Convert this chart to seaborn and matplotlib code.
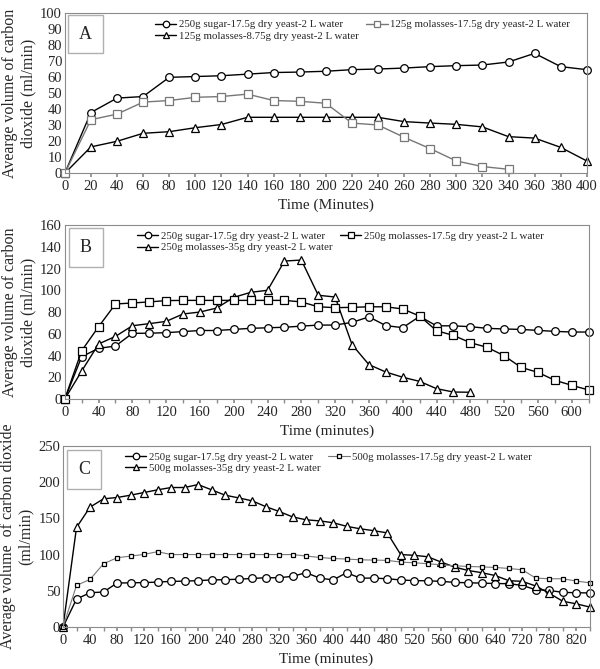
import numpy as np
import pandas as pd
import matplotlib
matplotlib.use("Agg")
import matplotlib.pyplot as plt
import seaborn as sns

sns.set_theme(style="white")
plt.rcParams['font.family'] = ['Liberation Serif', 'DejaVu Serif']

# Panel A
a_time = list(range(0, 401, 20))
a_sugar = [0, 38, 47, 48, 60, 60.5, 61, 62, 63, 63.3, 63.8, 64.8, 65.2, 65.8, 66.7, 67.3, 67.7, 69.6, 75, 66.7, 64.8]
a_mol175_time = list(range(0, 341, 20))
a_mol175 = [0, 33.5, 37, 44.5, 45.5, 47.5, 48, 49.5, 45.5, 45, 43.8, 31.4, 30.2, 22.5, 15.4, 7.7, 4.2, 2.5]
a_mol875 = [0, 16.5, 20, 25, 26, 28.5, 30.5, 35, 35, 35, 35, 35, 35, 32.3, 31.4, 30.6, 29, 22.9, 22, 16.2, 7.7]

# Panel B
b_time = list(range(0, 621, 20))
b_sugar = [0, 38.9, 46.6, 48.7, 60.4, 60.5, 61, 62, 63, 63, 64, 65, 65.5, 66, 67, 68, 68, 70.5, 75.5, 67.5,
           65.6, 76, 67.3, 67.3, 66.5, 65, 64.4, 64, 63.1, 62.2, 61.6, 61.6]
b_mol175 = [0, 44.4, 66.5, 87.4, 88.3, 89.3, 90.5, 90.7, 90.7, 90.7, 90.7, 90.7, 90.7, 90.7, 89.3, 84.8,
            84, 84.3, 84.8, 84.8, 82.8, 76.3, 62.8, 58.5, 51.8, 47.5, 39.8, 29.1, 24.5, 17.2, 12.6, 8.3]
b_mol35_time = list(range(0, 481, 20))
b_mol35 = [0, 25.7, 50.6, 57.6, 67.4, 69.3, 71.4, 78.2, 80, 83.7, 93.5, 98.1, 100, 126.9, 127.8, 95.4,
           93.8, 50, 31.6, 24.8, 20, 16.2, 9.5, 6.4, 6.2]

# Panel C (categorical time axis)
c_time = list(range(0, 641, 20)) + [680, 720, 750, 780, 800, 820, 840]
c_sugar = [0, 38.6, 47.3, 48.3, 60.7, 61, 61.3, 62, 63, 63.3, 64, 65, 65.3, 66, 67, 68, 68, 70, 75, 67.5,
           65, 75, 67.5, 67.5, 66.6, 65, 64, 63.8, 63, 61.6, 61, 60.6, 60, 59.8, 57.4, 51.5, 50.5, 47.8, 47.3, 47]
c_mol175 = [0, 57.4, 65.7, 87.3, 95.6, 97.9, 100.2, 104, 100, 100, 100, 100, 100, 100, 100, 100, 100, 100,
            98, 96, 94.6, 93.8, 92.8, 92.4, 92, 89.6, 88.7, 87.3, 85.9, 84.5, 83.6, 83, 82.2, 80.8, 79,
            67.5, 66.6, 66.6, 63.4, 61]
c_mol35 = [0, 137.4, 165.5, 177, 178.8, 182, 185.7, 189.4, 192.6, 192.6, 196.7, 189.4, 182, 178.3, 174.2,
           166.3, 159.5, 152, 148, 146.5, 144, 139, 135.6, 133, 130, 100, 99, 97, 89.6, 82.7, 78, 75, 71,
           64, 63, 56.6, 46.5, 35.5, 32, 27.5]

fig = plt.figure(figsize=(6, 6.69), dpi=100)
axA = fig.add_axes([0.108, 0.741, 0.870, 0.239])
axB = fig.add_axes([0.108, 0.4036, 0.873, 0.260])
axC = fig.add_axes([0.105, 0.0628, 0.878, 0.2706])

circ = dict(marker='o', markersize=5.5, markerfacecolor='white', markeredgecolor='black',
            markeredgewidth=0.9, color='black', linewidth=1.0)
tri = dict(marker='^', markersize=5.2, markerfacecolor='white', markeredgecolor='black',
           markeredgewidth=0.9, color='black', linewidth=1.0)

# ---- A
sns.lineplot(x=a_time, y=a_sugar, ax=axA, label='250g sugar-17.5g dry yeast-2 L water', **circ)
sns.lineplot(x=a_time, y=a_mol875, ax=axA, label='125g molasses-8.75g dry yeast-2 L water', **tri)
sns.lineplot(x=a_mol175_time, y=a_mol175, ax=axA, label='125g molasses-17.5g dry yeast-2 L water',
             marker='s', markersize=5.5, markerfacecolor='white', markeredgecolor='#777777',
             markeredgewidth=0.9, color='#777777', linewidth=1.0)
axA.set_xlim(0, 400)
axA.set_ylim(0, 100)
axA.set_xticks(a_time)
axA.set_yticks(range(0, 101, 10))
axA.set_xlabel('Time (Minutes)', fontsize=11, labelpad=4)
axA.set_ylabel('Avearge volume of carbon\ndioxide (ml/min)', fontsize=11.5, labelpad=3)

# ---- B
sns.lineplot(x=b_time, y=b_sugar, ax=axB, label='250g sugar-17.5g dry yeast-2 L water', **circ)
sns.lineplot(x=b_mol35_time, y=b_mol35, ax=axB, label='250g molasses-35g dry yeast-2 L water', **tri)
sns.lineplot(x=b_time, y=b_mol175, ax=axB, label='250g molasses-17.5g dry yeast-2 L water',
             marker='s', markersize=5.5, markerfacecolor='white', markeredgecolor='black',
             markeredgewidth=0.9, color='black', linewidth=1.0)
axB.set_xlim(0, 620)
axB.set_ylim(0, 160)
axB.set_xticks(range(0, 601, 40))
axB.set_xticks(b_time, minor=True)
axB.set_yticks(range(0, 161, 20))
axB.set_xlabel('Time (minutes)', fontsize=11, labelpad=4)
axB.set_ylabel('Average volume of carbon\ndioxide (ml/min)', fontsize=11.5, labelpad=3)

# ---- C
c_pos = np.arange(len(c_time))
sns.lineplot(x=c_pos, y=c_sugar, ax=axC, label='250g sugar-17.5g dry yeast-2 L water', **circ)
sns.lineplot(x=c_pos, y=c_mol35, ax=axC, label='500g molasses-35g dry yeast-2 L water', **tri)
sns.lineplot(x=c_pos, y=c_mol175, ax=axC, label='500g molasses-17.5g dry yeast-2 L water',
             marker='s', markersize=3.2, markerfacecolor='white', markeredgecolor='black',
             markeredgewidth=0.9, color='#777777', linewidth=0.8)
axC.set_xlim(0, len(c_time) - 1)
axC.set_ylim(0, 250)
axC.set_xticks(c_pos[::2])
axC.set_xticklabels([str(t) for t in c_time[::2]])
axC.set_xticks(c_pos, minor=True)
axC.set_yticks(range(0, 251, 50))
axC.set_xlabel('Time (minutes)', fontsize=11, labelpad=4)
axC.set_ylabel('Average volume  of carbon dioxide\n(ml/min)', fontsize=11.5, labelpad=3)

legend_pos = {axA: (0.16, 1.0), axB: (0.125, 1.0), axC: (0.105, 1.0)}
for ax, letter in zip([axA, axB, axC], ['A', 'B', 'C']):
    for s in ax.spines.values():
        s.set_color('#8c8c8c')
        s.set_linewidth(0.8)
    ax.tick_params(axis='both', labelsize=10.5, length=3, color='#8c8c8c', pad=2,
                   bottom=True, left=True)
    ax.tick_params(axis='x', which='minor', length=3, color='#8c8c8c', bottom=True)
    ax.tick_params(axis='y', length=0)
    for line in ax.lines:
        line.set_clip_on(False)
    ax.legend(loc='upper left', bbox_to_anchor=legend_pos[ax], ncol=2, frameon=False,
              fontsize=7.8, handlelength=2.0, handletextpad=0.2, columnspacing=0.7,
              labelspacing=0.15, borderaxespad=0.2, markerscale=0.85)
    ax.text(0.04, 0.87, letter, transform=ax.transAxes, fontsize=13, ha='center', va='center',
            bbox=dict(boxstyle='square,pad=0.6', facecolor='white', edgecolor='#b0b0b0', linewidth=1.0))

fig.savefig('out.png', dpi=100)
